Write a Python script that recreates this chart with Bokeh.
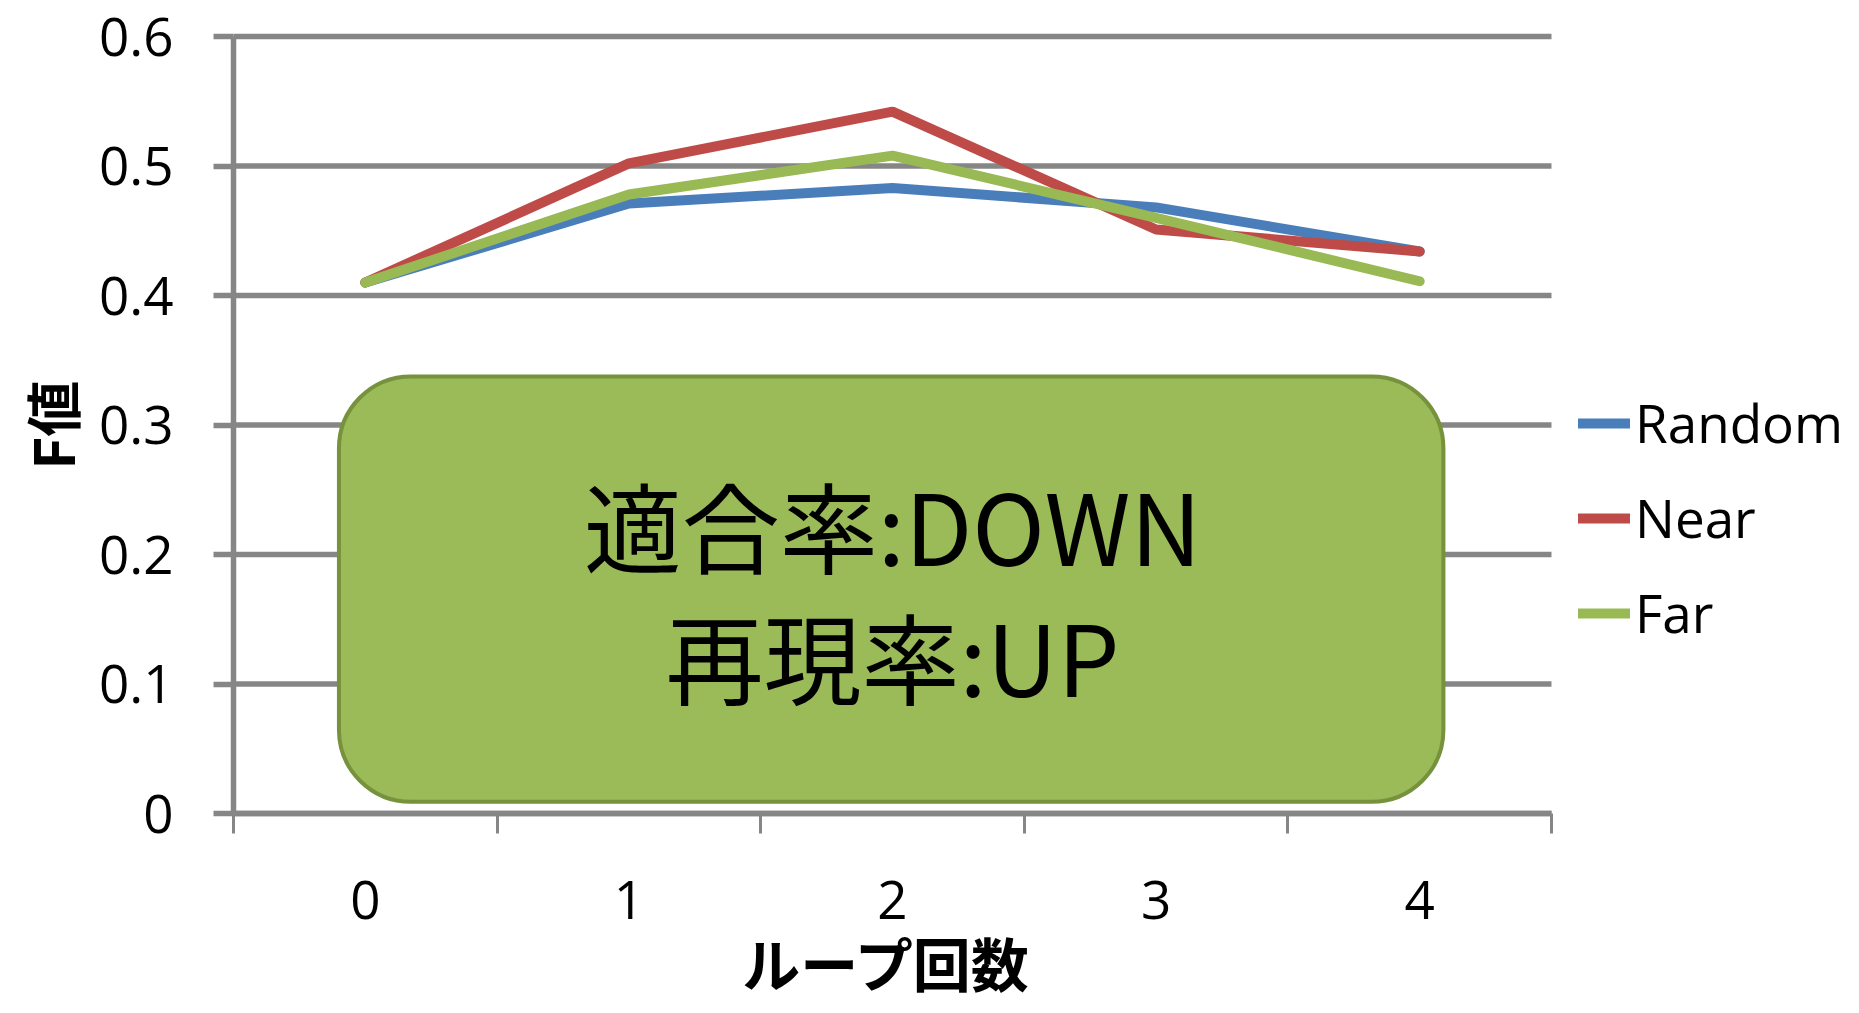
import math
from bokeh.plotting import figure
from bokeh.models import Range1d, FixedTicker, Legend, LegendItem
from bokeh.core.properties import value
from bokeh.embed import file_html
from bokeh.resources import INLINE

# ---- data ----
loops = [0, 1, 2, 3, 4]
random_f = [0.410, 0.471, 0.483, 0.468, 0.434]
near_f = [0.410, 0.502, 0.542, 0.451, 0.434]
far_f = [0.410, 0.478, 0.508, 0.460, 0.411]
series_names = ["Random", "Near", "Far"]
y_ticks = [0, 0.1, 0.2, 0.3, 0.4, 0.5, 0.6]
y_tick_labels = ["0", "0.1", "0.2", "0.3", "0.4", "0.5", "0.6"]
x_title = "ループ回数"
y_title = "F値"
note_lines = ["適合率:DOWN", "再現率:UP"]

# ---- positions / styles ----
x_lo, x_hi = loops[0] - 0.5, loops[-1] + 0.5
y_lo, y_hi = y_ticks[0], y_ticks[-1]
view_x = (-1.3839, 5.6685)      # canvas-wide view so titles/legend sit inside the frame
view_y = (-0.15444, 0.6278)
note_x = [2, 2]
note_y = [0.224, 0.123]
x_title_pos = (1.98, -0.1150)
y_title_pos = (-1.194, 0.300)
box_left, box_right, box_top, box_bottom = -0.1, 4.09, 0.3375, 0.009
colors = ["#4A7EBB", "#BE4B48", "#98B954"]
grey = "#868686"
num_font = "Open Sans"
cjk_font = "Noto Sans CJK JP"

p = figure(width=1859, height=1013, output_backend="svg", toolbar_location=None,
           x_range=Range1d(*view_x), y_range=Range1d(*view_y),
           min_border_left=0, min_border_right=0, min_border_top=0,
           min_border_bottom=0)
p.outline_line_color = None
p.background_fill_color = "white"
p.border_fill_color = "white"

# grid (drawn only across the category span)
p.xgrid.visible = False
p.ygrid.visible = False
p.segment(x0=[x_lo] * len(y_ticks), x1=[x_hi] * len(y_ticks), y0=y_ticks, y1=y_ticks,
          line_color=grey, line_width=5.5)

# x axis (pinned at y = 0)
xa = p.xaxis[0]
xa.fixed_location = y_lo
xa.bounds = (x_lo, x_hi)
xa.ticker = FixedTicker(ticks=loops,
                        minor_ticks=[v - 0.5 for v in loops] + [x_hi])
xa.axis_line_color = grey
xa.axis_line_width = 5.5
xa.major_tick_line_color = None
xa.major_tick_out = 0
xa.major_tick_in = 0
xa.minor_tick_line_color = grey
xa.minor_tick_line_width = 3
xa.minor_tick_out = 20
xa.minor_tick_in = 0
xa.major_label_standoff = 47
xa.major_label_text_font = num_font
xa.major_label_text_font_size = "53px"
xa.major_label_text_color = "black"

# y axis (pinned at x = -0.5)
ya = p.yaxis[0]
ya.fixed_location = x_lo
ya.bounds = (y_lo, y_hi)
ya.ticker = FixedTicker(ticks=y_ticks)
ya.major_label_overrides = dict(zip(y_ticks, y_tick_labels))
ya.axis_line_color = grey
ya.axis_line_width = 5.5
ya.major_tick_line_color = grey
ya.major_tick_line_width = 5.5
ya.major_tick_out = 20
ya.major_tick_in = 0
ya.minor_tick_line_color = None
ya.major_label_standoff = 40
ya.major_label_text_font = num_font
ya.major_label_text_font_size = "53px"
ya.major_label_text_color = "black"

# axis titles
p.text(x=[x_title_pos[0]], y=[x_title_pos[1]], text=[x_title], text_font=value(cjk_font),
       text_font_style="bold", text_font_size="58px", text_align="center",
       text_baseline="middle", text_color="black")
p.text(x=[y_title_pos[0]], y=[y_title_pos[1]], text=[y_title], text_font=value(cjk_font),
       text_font_style="bold", text_font_size="56px", text_align="center",
       text_baseline="middle", text_color="black", angle=math.pi / 2)

# lines
renderers = []
for ys, c in zip([random_f, near_f, far_f], colors):
    r = p.line(loops, ys, line_color=c, line_width=10, line_cap="round")
    renderers.append(r)

# rounded annotation box
p.quad(left=[box_left], right=[box_right], top=[box_top], bottom=[box_bottom],
       fill_color="#9BBB59", line_color="#76923C", line_width=4, border_radius=72)
p.text(x=note_x, y=note_y, text=note_lines, text_font=value(cjk_font),
       text_font_size="98px", text_align="center", text_baseline="middle",
       text_color="black")

legend = Legend(items=[LegendItem(label=n, renderers=[r]) for n, r in zip(series_names, renderers)],
                location=(1578, 364), orientation="vertical",
                glyph_width=52, glyph_height=72, label_height=72, label_standoff=5,
                spacing=22, padding=0, margin=0,
                label_text_font=num_font, label_text_font_size="53px",
                label_text_color="black",
                border_line_color=None, background_fill_alpha=0)
p.add_layout(legend, "center")

open("out.html", "w").write(file_html(p, INLINE))
